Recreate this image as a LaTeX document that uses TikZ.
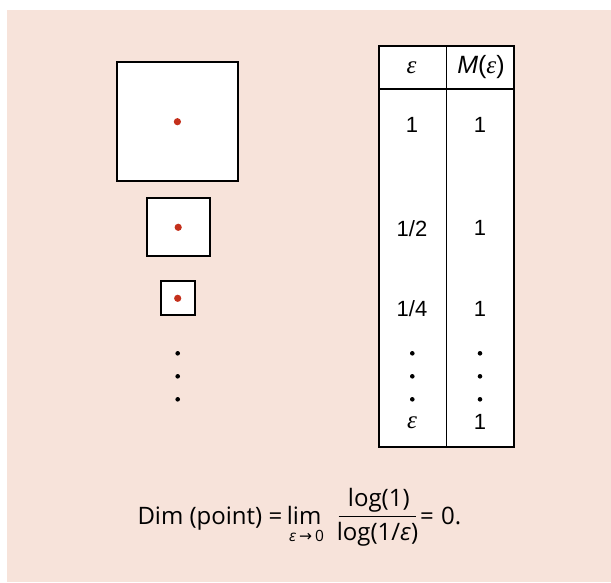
\documentclass[tikz,border=0pt]{standalone}
\usepackage{fontspec}
\setmainfont{Liberation Sans}
\newfontfamily\formulafont{Open Sans}
\newfontfamily\epsfamily{Liberation Serif}
\newfontfamily\arrowfont{DejaVu Sans}

\definecolor{bgpink}{RGB}{247,227,218}
\definecolor{dotred}{RGB}{196,48,28}

\newcommand{\teps}{{\epsfamily\itshape ε}}
\newcommand{\feps}{{\itshape ε}}

\tikzset{
  square/.style={draw=black, fill=white, line width=2pt, inner sep=0pt},
  reddot/.style={circle, fill=dotred, inner sep=0pt, minimum size=7.2pt},
  blackdot/.style={circle, fill=black, inner sep=0pt, minimum size=4.6pt},
  tableframe/.style={draw=black, fill=white, line width=1.9pt, inner sep=0pt},
  rule/.style={draw=black, line width=1.7pt},
  cell/.style={inner sep=0pt, font=\fontsize{22}{26}\selectfont},
  headcell/.style={inner sep=0pt, font=\fontsize{25}{29}\selectfont},
  ftext/.style={inner sep=0pt, font=\formulafont\fontsize{24}{28}\selectfont},
  fsub/.style={inner sep=0pt, font=\formulafont\fontsize{15.5}{18}\selectfont},
}

\begin{document}
\begin{tikzpicture}[x=1pt, y=-1pt]
  \useasboundingbox (0,0) rectangle (611,582);
  \fill[bgpink] (7,10) rectangle (611,582);

  % shrinking squares, each covering the point
  \node[square, minimum width=121pt, minimum height=119pt] (big) at (177.4,121.7) {};
  \node[square, minimum width=63pt, minimum height=58pt] (mid) at (178.2,227.3) {};
  \node[square, minimum width=34pt, minimum height=34pt] (small) at (177.7,298.3) {};
  \node[reddot] (pbig) at (big.center) {};
  \node[reddot] (pmid) at (mid.center) {};
  \node[reddot] (psmall) at (small.center) {};
  \node[blackdot] (sd1) at (177.7,353.3) {};
  \node[blackdot] (sd2) at (177.7,376.3) {};
  \node[blackdot] (sd3) at (177.7,399.3) {};

  % table of box sizes and box counts
  \node[tableframe, minimum width=134.7pt, minimum height=401.3pt] (tab) at (446.35,246.65) {};
  \coordinate (hl) at (0,89);
  \draw[rule] (tab.north) -- (tab.south);
  \draw[rule] (tab.west |- hl) -- (tab.east |- hl);

  \node[headcell] (h1) at (411.5,68) {\teps};
  \node[headcell] (h2) at (481,67) {\textit{M}(\teps)};

  \node[cell] (a1) at (412,125) {1};
  \node[cell] (b1) at (480,125) {1};
  \node[cell] (a2) at (412,228.3) {1/2};
  \node[cell] (b2) at (480,228.3) {1};
  \node[cell] (a3) at (412,309) {1/4};
  \node[cell] (b3) at (480,309) {1};

  \node[blackdot] (ad1) at (412.3,353.3) {};
  \node[blackdot] (ad2) at (412.3,376.3) {};
  \node[blackdot] (ad3) at (412.3,399.3) {};
  \node[blackdot] (bd1) at (480,353.3) {};
  \node[blackdot] (bd2) at (480,376.3) {};
  \node[blackdot] (bd3) at (480,399.3) {};

  \node[headcell] (a4) at (412,423) {\teps};
  \node[cell] (b4) at (480,421.5) {1};

  % dimension formula
  \node[ftext, anchor=base west] (dim) at (137.3,524) {Dim (point) =};
  \node[ftext, anchor=base west] (lim) at (286.7,524) {lim};
  \node[fsub, anchor=base] (sub) at (306.5,541) {\feps\hspace{0.2em}{\arrowfont →}\hspace{0.2em}0};
  \node[ftext, anchor=base] (num) at (378.8,506) {log(1)};
  \node[ftext, anchor=base] (den) at (377.5,540) {log(1/\feps)};
  \coordinate (barl) at (338.5,516.7);
  \coordinate (barr) at (415.5,516.7);
  \draw[line width=1.4pt] (barl) -- (barr);
  \node[ftext, anchor=base west] (zero) at (420,524) {=\hspace{0.3em}0.};
\end{tikzpicture}
\end{document}
